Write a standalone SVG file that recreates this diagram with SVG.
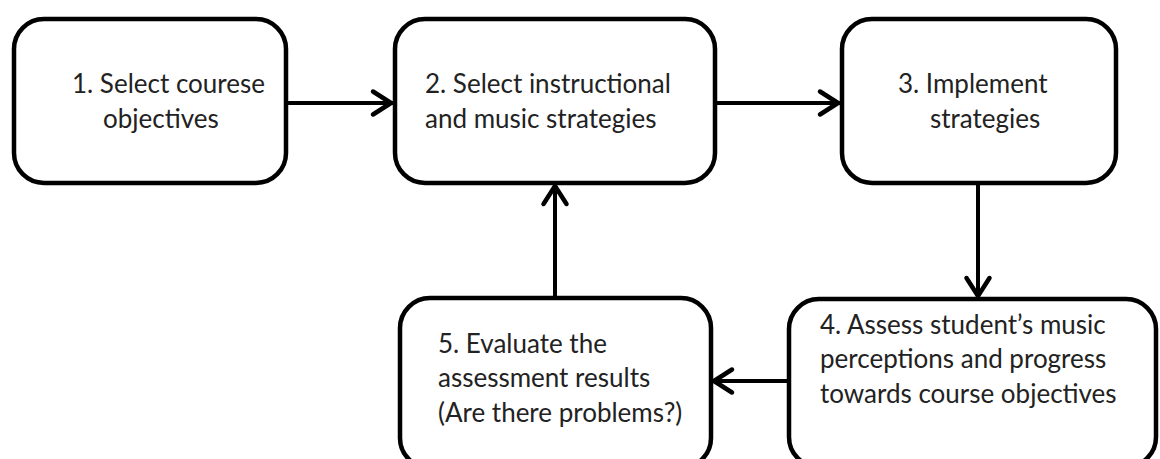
<svg xmlns="http://www.w3.org/2000/svg" width="1160" height="459" viewBox="0 0 1160 459">
<style>
.box{fill:#fff;stroke:#000;stroke-width:4.5}
.t{font-family:Lato,"Liberation Sans",sans-serif;font-size:26px;fill:#222}
.c{fill:none;stroke:#000;stroke-width:4;marker-end:url(#ah)}
</style>
<defs>
<marker id="ah" markerUnits="userSpaceOnUse" viewBox="-26 -15 30 30" markerWidth="30" markerHeight="30" refX="0" refY="0" orient="auto">
<path d="M -20 -11.5 L -2 0 L -20 11.5" fill="none" stroke="#000" stroke-width="4.5" stroke-linecap="round" stroke-linejoin="round"/>
</marker>
</defs>
<rect width="1160" height="459" fill="#fff"/>
<g id="connectors">
<path class="c" d="M 288 103 L 393 103"/>
<path class="c" d="M 717 103 L 840 103"/>
<path class="c" d="M 978 185 L 978 298"/>
<path class="c" d="M 787 381 L 712 381"/>
<path class="c" d="M 555 296 L 555 184"/>
</g>
<g id="n1">
<rect class="box" x="14" y="19" width="272" height="164" rx="30"/>
<text class="t" x="72" y="93">1. Select courese</text>
<text class="t" x="103" y="128">objectives</text>
</g>
<g id="n2">
<rect class="box" x="395" y="19" width="320" height="164" rx="30"/>
<text class="t" x="425" y="93">2. Select instructional</text>
<text class="t" x="425" y="128">and music strategies</text>
</g>
<g id="n3">
<rect class="box" x="842" y="19" width="274" height="164" rx="30"/>
<text class="t" x="898" y="93">3. Implement</text>
<text class="t" x="930" y="128">strategies</text>
</g>
<g id="n4">
<rect class="box" x="789" y="299" width="367" height="168" rx="30"/>
<text class="t" x="820" y="334">4. Assess student’s music</text>
<text class="t" x="820" y="368">perceptions and progress</text>
<text class="t" x="820" y="403">towards course objectives</text>
</g>
<g id="n5">
<rect class="box" x="400" y="298" width="311" height="170" rx="30"/>
<text class="t" x="438" y="353">5. Evaluate the</text>
<text class="t" x="438" y="387">assessment results</text>
<text class="t" x="438" y="422">(Are there problems?)</text>
</g>
</svg>
